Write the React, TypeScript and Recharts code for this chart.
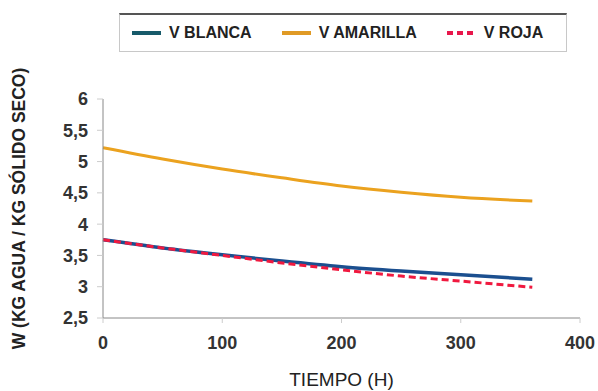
import React from 'react';
import { LineChart, Line, XAxis, YAxis } from 'recharts';

const tiempo = [0, 50, 100, 150, 200, 250, 300, 360];
const vBlanca = [3.75, 3.62, 3.51, 3.41, 3.32, 3.25, 3.19, 3.12];
const vAmarilla = [5.22, 5.04, 4.88, 4.74, 4.61, 4.51, 4.43, 4.37];
const vRoja = [3.75, 3.62, 3.5, 3.38, 3.27, 3.17, 3.09, 2.99];
const xTicks = [0, 100, 200, 300, 400];
const yTicks = [2.5, 3, 3.5, 4, 4.5, 5, 5.5, 6];

const data = tiempo.map((t, i) => ({ t, blanca: vBlanca[i], amarilla: vAmarilla[i], roja: vRoja[i] }));

const FONT = '"Liberation Sans", Arial, sans-serif';

const legendItems = [
  { name: 'V BLANCA', color: '#175a6a', dash: undefined as string | undefined },
  { name: 'V AMARILLA', color: '#e09a25', dash: undefined },
  { name: 'V ROJA', color: '#e8174c', dash: '6 4' },
];

const LegendBox = () => (
  <div
    style={{
      position: 'absolute',
      left: 119,
      top: 13,
      width: 448,
      height: 39,
      boxSizing: 'border-box',
      border: '1px solid #c8c8c8',
      borderTop: '2px solid #555',
      display: 'flex',
      alignItems: 'center',
      fontFamily: FONT,
      fontSize: 16,
      fontWeight: 'bold',
      color: '#222',
    }}
  >
    {legendItems.map((it, i) => (
      <div key={it.name} style={{ display: 'flex', alignItems: 'center', marginLeft: i === 0 ? 12 : 30 }}>
        <svg width={29} height={8} style={{ marginRight: 8 }}>
          <line x1={0} y1={4} x2={29} y2={4} stroke={it.color} strokeWidth={4} strokeDasharray={it.dash} />
        </svg>
        <span>{it.name}</span>
      </div>
    ))}
  </div>
);

export default function App() {
  return (
    <div style={{ position: 'absolute', left: 0, top: 0, width: 598, height: 391, background: '#fff' }}>
      <LineChart width={598} height={391} data={data} margin={{ top: 99, right: 18, bottom: 33, left: 43 }}>
        <XAxis
          dataKey="t"
          type="number"
          domain={[0, 400]}
          ticks={xTicks}
          axisLine={{ stroke: '#888' }}
          tickLine={{ stroke: '#ccc' }}
          tickSize={5}
          tickMargin={13}
          height={40}
          tick={{ fill: '#333', fontSize: 18, fontFamily: FONT, fontWeight: 'bold' }}
          label={{
            value: 'TIEMPO (H)',
            position: 'insideBottom',
            offset: -28,
            fill: '#222',
            fontSize: 19,
            fontFamily: FONT,
          }}
        />
        <YAxis
          type="number"
          domain={[2.5, 6]}
          ticks={yTicks}
          width={60}
          axisLine={{ stroke: '#888' }}
          tickLine={{ stroke: '#ccc' }}
          tickSize={6}
          tickMargin={9}
          tickFormatter={(v: number) => String(v).replace('.', ',')}
          tick={{ fill: '#333', fontSize: 18, fontFamily: FONT, fontWeight: 'bold' }}
          label={{
            value: 'W (KG AGUA / KG SÓLIDO SECO)',
            angle: -90,
            position: 'insideLeft',
            offset: -24,
            style: { textAnchor: 'middle' },
            fill: '#222',
            fontSize: 17.5,
            fontFamily: FONT,
            fontWeight: 'bold',
          }}
        />
        <Line type="monotone" dataKey="amarilla" stroke="#eba21f" strokeWidth={3} dot={false} isAnimationActive={false} />
        <Line type="monotone" dataKey="blanca" stroke="#1b4f8f" strokeWidth={3.5} dot={false} isAnimationActive={false} />
        <Line type="monotone" dataKey="roja" stroke="#f0193f" strokeWidth={3} strokeDasharray="7 4" dot={false} isAnimationActive={false} />
      </LineChart>
      <LegendBox />
    </div>
  );
}
